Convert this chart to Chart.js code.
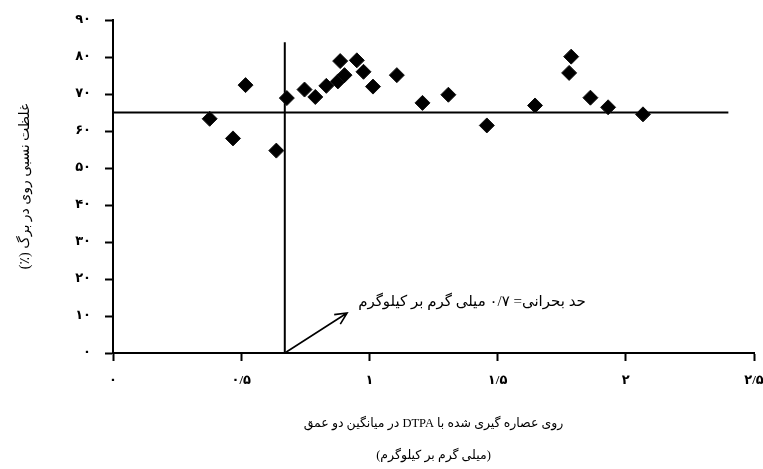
<!DOCTYPE html>
<html>
<head>
<meta charset="utf-8">
<script src="https://cdn.jsdelivr.net/npm/chart.js@4.4.0/dist/chart.umd.min.js"></script>
<style>
  html, body { margin: 0; padding: 0; background: #fff; }
  #wrap { width: 763px; height: 469px; }
</style>
</head>
<body>
<div id="wrap"><canvas id="myChart" width="763" height="469"></canvas></div>
<script>
// DTPA-extractable Zn (mg/kg) vs relative Zn in leaf (%)
const znSoil = [0.377, 0.468, 0.517, 0.637, 0.678, 0.747, 0.789, 0.832, 0.877, 0.886, 0.903, 0.951,
                0.977, 1.014, 1.107, 1.207, 1.308, 1.458, 1.646, 1.779, 1.787, 1.862, 1.931, 2.067];
const relLeaf = [63.3, 58.0, 72.4, 54.7, 68.9, 71.2, 69.2, 72.2, 73.4, 78.9, 75.1, 79.1,
                 76.0, 72.0, 75.1, 67.6, 69.8, 61.5, 66.9, 75.7, 80.1, 69.0, 66.4, 64.5];

// critical level lines (Cate-Nelson split)
const critX = 0.67;
const critXTop = 84;
const critY = 65;
const critYEnd = 2.4;

// annotation: arrow tip and label anchor (data units)
const arrowTip = [0.913, 10.8];
const noteAt = [1.40, 13.8];
const noteText = 'حد بحرانی= ۰/۷ میلی گرم بر کیلوگرم';

const xTicks = [0, 0.5, 1, 1.5, 2, 2.5];
const yTicks = [0, 10, 20, 30, 40, 50, 60, 70, 80, 90];

const xTitle = ['روی عصاره گیری شده با DTPA در میانگین دو عمق', '(میلی گرم بر کیلوگرم)'];
const yTitle = 'غلظت نسبی روی در برگ (٪)';

function toFa(v) {
    return String(v).replace('.', '/').replace(/\d/g, d => '۰۱۲۳۴۵۶۷۸۹'[d]);
}

// force right-to-left embedding for canvas text
function rtl(s) {
    return '\u202B' + s + '\u202C';
}

const fontFam = '"Liberation Serif", "DejaVu Sans", serif';

const points = znSoil.map((x, i) => ({ x: x, y: relLeaf[i] }));

// arrow + label
const notePlugin = {
    id: 'note',
    afterDatasetsDraw(chart) {
        const ctx = chart.ctx;
        const xs = chart.scales.x, ys = chart.scales.y;
        const x0 = xs.getPixelForValue(critX), y0 = ys.getPixelForValue(0);
        const x1 = xs.getPixelForValue(arrowTip[0]), y1 = ys.getPixelForValue(arrowTip[1]);
        ctx.save();
        ctx.strokeStyle = '#000';
        ctx.lineWidth = 1.6;
        ctx.beginPath();
        ctx.moveTo(x0, y0);
        ctx.lineTo(x1, y1);
        const a = Math.atan2(y1 - y0, x1 - x0);
        const len = 13;
        ctx.moveTo(x1 - len * Math.cos(a - 0.45), y1 - len * Math.sin(a - 0.45));
        ctx.lineTo(x1, y1);
        ctx.lineTo(x1 - len * Math.cos(a + 0.45), y1 - len * Math.sin(a + 0.45));
        ctx.stroke();

        ctx.fillStyle = '#000';
        ctx.font = '15px ' + fontFam;
        ctx.textAlign = 'center';
        ctx.textBaseline = 'middle';
        ctx.direction = 'rtl';
        ctx.fillText(noteText, xs.getPixelForValue(noteAt[0]), ys.getPixelForValue(noteAt[1]));
        ctx.restore();
    }
};

const config = {
    type: 'scatter',
    data: {
        datasets: [{
            label: 'points',
            data: points,
            pointStyle: 'rectRot',
            pointRadius: 7.5,
            pointHoverRadius: 7.5,
            backgroundColor: '#000',
            borderColor: '#111',
            borderWidth: 1
        }, {
            label: 'critY',
            type: 'line',
            data: [{ x: 0, y: critY }, { x: critYEnd, y: critY }],
            borderColor: '#000',
            borderWidth: 2,
            pointRadius: 0,
            showLine: true
        }, {
            label: 'critX',
            type: 'line',
            data: [{ x: critX, y: 0 }, { x: critX, y: critXTop }],
            borderColor: '#000',
            borderWidth: 2,
            pointRadius: 0,
            showLine: true
        }]
    },
    options: {
        responsive: false,
        animation: false,
        devicePixelRatio: 1,
        layout: { padding: { top: 20, right: 9, left: 0, bottom: 0 } },
        plugins: {
            legend: { display: false },
            tooltip: { enabled: false }
        },
        scales: {
            x: {
                type: 'linear',
                min: 0,
                max: 2.5,
                afterBuildTicks: s => { s.ticks = xTicks.map(v => ({ value: v })); },
                afterFit: s => { s.height = 116; s.paddingLeft = 0; s.paddingRight = 0; },
                border: { color: '#000', width: 2 },
                grid: { drawOnChartArea: false, tickLength: 8, tickColor: '#000', tickWidth: 2 },
                ticks: {
                    color: '#000',
                    padding: 12,
                    maxRotation: 0,
                    font: { family: fontFam, size: 13, weight: 'bold' },
                    callback: v => toFa(v)
                },
                title: {
                    display: true,
                    text: xTitle.map(rtl),
                    color: '#000',
                    font: { family: fontFam, size: 12.5, lineHeight: '32px' },
                    padding: { top: 0, bottom: -3 }
                }
            },
            y: {
                min: 0,
                max: 90,
                afterBuildTicks: s => { s.ticks = yTicks.map(v => ({ value: v })); },
                afterFit: s => { s.width = 113; s.paddingTop = 0; s.paddingBottom = 0; },
                border: { color: '#000', width: 2 },
                grid: { drawOnChartArea: false, tickLength: 8, tickColor: '#000', tickWidth: 2 },
                ticks: {
                    color: '#000',
                    padding: 14,
                    font: { family: fontFam, size: 13, weight: 'bold' },
                    callback: v => toFa(v)
                },
                title: {
                    display: true,
                    text: rtl(yTitle),
                    color: '#000',
                    font: { family: fontFam, size: 14 },
                    padding: { top: 17, bottom: 0 }
                }
            }
        }
    },
    plugins: [notePlugin]
};

const myChart = new Chart(document.getElementById('myChart'), config);
</script>
</body>
</html>
